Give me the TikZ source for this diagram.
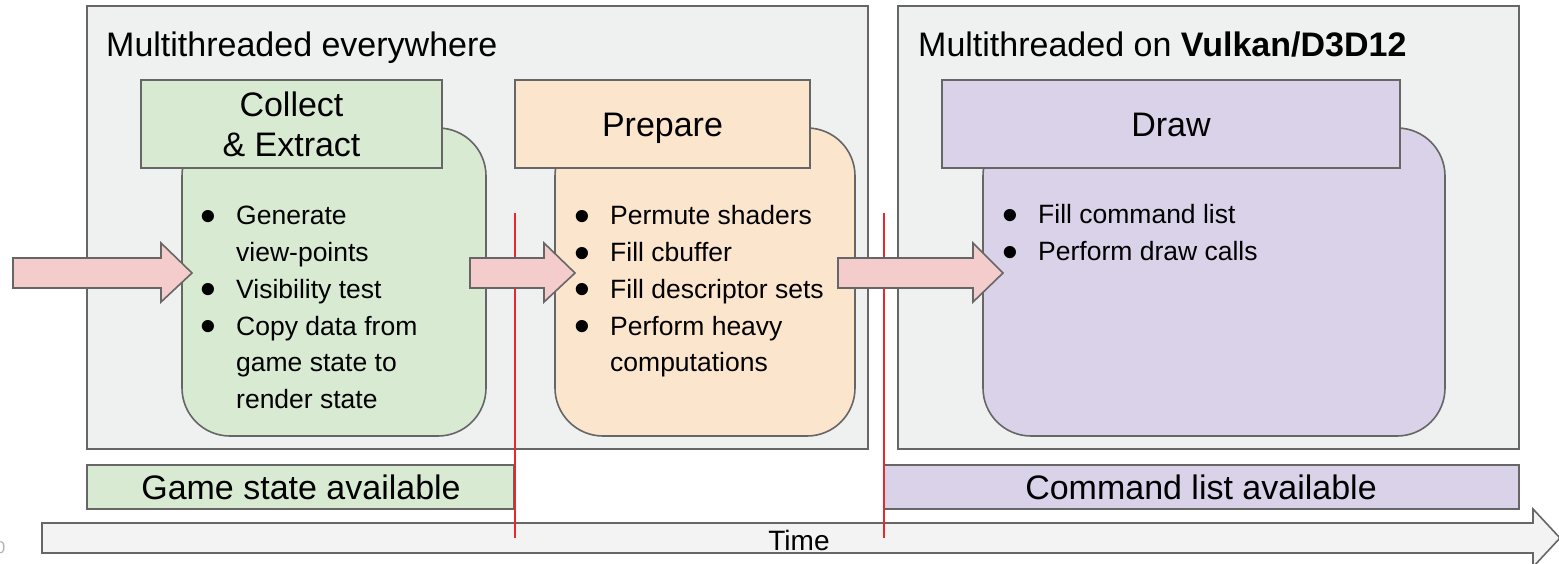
\documentclass[tikz,border=0pt]{standalone}
\usepackage{fontspec}
\setmainfont{Liberation Sans}
\usepackage{graphicx}
\usetikzlibrary{fit}
\definecolor{panelfill}{HTML}{EFF0F0}
\definecolor{edgegray}{HTML}{666666}
\definecolor{greenfill}{HTML}{D9EAD3}
\definecolor{orangefill}{HTML}{FCE5CD}
\definecolor{purplefill}{HTML}{D9D2E9}
\definecolor{pinkfill}{HTML}{F4CCCC}
\definecolor{timefill}{HTML}{F3F3F3}
\definecolor{syncred}{HTML}{E8282E}
% bullet and continuation indent for the stage task lists
\newcommand\bul{\makebox[36pt][l]{\smash{\raisebox{-6.5pt}{\scalebox{1.7}{\textbullet}}}}}
\newcommand\cont{\hspace*{36pt}}
\begin{document}
\begin{tikzpicture}[x=1pt,y=-1pt,
  box/.style={draw=edgegray,line width=1.6pt,inner sep=0pt},
  panel/.style={box,fill=panelfill},
  stage/.style={box,rounded corners=48pt},
  label/.style={inner sep=0pt,font=\fontsize{34}{40}\selectfont},
  itemtext/.style={inner sep=0pt,anchor=base west,font=\fontsize{26.5}{36.7}\selectfont},
  blockarrow/.style={draw=edgegray,line width=1.6pt,fill=pinkfill,line join=miter},
  syncline/.style={draw=syncred,line width=1.8pt}]
\useasboundingbox (0,0) rectangle (1559,564);

% thread-group panels
\node[panel, fit={(87,6) (868,449)}] (everywhere) {};
\node[panel, fit={(898,6) (1519,449)}] (vulkan) {};
\node[label, anchor=base west] (everywheretitle) at (106,57) {Multithreaded everywhere};
\node[label, anchor=base west] (vulkantitle) at (918,57) {Multithreaded on \textbf{Vulkan/D3D12}};

% availability bars
\node[box, fill=greenfill, fit={(87,465) (514,509)}] (gamebar) {};
\node[label, anchor=base] (gametext) at (301,499.5) {Game state available};
\node[box, fill=purplefill, fit={(884,465) (1519,509)}] (cmdbar) {};
\node[label, anchor=base] (cmdtext) at (1201,499.5) {Command list available};

% time axis
\draw[box, fill=timefill, line join=miter]
  (42,523) -- (1533,523) -- (1533,509) -- (1560,538) -- (1533,567) -- (1533,553) -- (42,553) -- cycle;
\node[label, anchor=base, font=\fontsize{28}{32}\selectfont] (timetext) at (799,550) {Time};
\node[inner sep=0pt, anchor=base, text=gray!60, font=\fontsize{17}{20}\selectfont] (pagenum) at (0.5,553) {0};

% stage bodies
\node[stage, fill=greenfill, fit={(182,128) (486,436)}] (collectbody) {};
\node[stage, fill=orangefill, fit={(555,128) (855,436)}] (preparebody) {};
\node[stage, fill=purplefill, fit={(983,128) (1445,436)}] (drawbody) {};

% stage headers
\node[box, fill=greenfill, fit={(141,80) (442,168)}] (collecthead) {};
\node[label, align=center] (collectlabel) at (291.5,124) {Collect\\\& Extract};
\node[box, fill=orangefill, fit={(515,80) (810,168)}] (preparehead) {};
\node[label, anchor=base] (preparelabel) at (662.5,136.5) {Prepare};
\node[box, fill=purplefill, fit={(942,80) (1400,168)}] (drawhead) {};
\node[label, anchor=base] (drawlabel) at (1171,136.5) {Draw};

% task lists
\node[itemtext] (collecttasks) at (200,225) {\begin{tabular}[t]{@{}l@{}}
\bul Generate\\
\cont view-points\\
\bul Visibility test\\
\bul Copy data from\\
\cont game state to\\
\cont render state
\end{tabular}};
\node[itemtext] (preparetasks) at (574,225) {\begin{tabular}[t]{@{}l@{}}
\bul Permute shaders\\
\bul Fill cbuffer\\
\bul Fill descriptor sets\\
\bul Perform heavy\\
\cont computations
\end{tabular}};
\node[itemtext] (drawtasks) at (1002,224) {\begin{tabular}[t]{@{}l@{}}
\bul Fill command list\\
\bul Perform draw calls
\end{tabular}};

% synchronisation points
\coordinate (syncAtop) at (515,213);
\coordinate (syncAbot) at (515,538);
\coordinate (syncBtop) at (884,213);
\coordinate (syncBbot) at (884,538);
\draw[syncline] (syncAtop) -- (syncAbot);
\draw[syncline] (syncBtop) -- (syncBbot);

% data flow between stages
\draw[blockarrow] (13,258) -- (161,258) -- (161,243) -- (192,273) -- (161,302) -- (161,288) -- (13,288) -- cycle;
\draw[blockarrow] (470,258) -- (544,258) -- (544,243) -- (575,273) -- (544,302) -- (544,288) -- (470,288) -- cycle;
\draw[blockarrow] (838,258) -- (973,258) -- (973,243) -- (1003,273) -- (973,302) -- (973,288) -- (838,288) -- cycle;
\end{tikzpicture}
\end{document}
